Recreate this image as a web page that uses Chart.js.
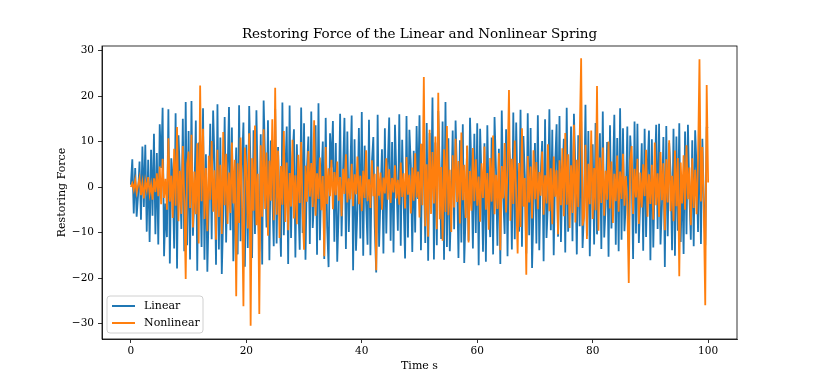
<!DOCTYPE html>
<html>
<head>
<meta charset="utf-8">
<script src="https://cdn.jsdelivr.net/npm/chart.js@4.4.0/dist/chart.umd.min.js"></script>
<style>
  html, body { margin: 0; padding: 0; background: #fff; }
  #wrap { width: 817px; height: 381px; }
</style>
</head>
<body>
<div id="wrap"><canvas id="springChart" width="817" height="381"></canvas></div>
<script>
// time grid: one sample every 0.25 s from 0 to 100 s
var timeStep = 0.25;

var linearForce = [
  0.5, 6.1, -5.8, 4.2, -6.5, -1.8, 5.6, -7.2, 8.9, -4.4, 9.3, -9.8, 6.0, -12.1, 8.2, -6.3, 11.7, -10.4, 7.5, -12.6,
  13.8, 4.2, 17.4, -15.2, -3.6, -11.0, 17.1, -16.8, 6.3, 1.9, -13.5, 16.2, -17.9, 11.4, 2.8, -9.2, 15.0, -14.1, 18.7, -12.8,
  12.3, -15.9, 18.9, -10.7, -2.4, 14.6, -18.4, 9.8, 3.5, -13.2, 17.3, -16.0, 7.2, -18.6, -4.1, 13.9, -11.5, 16.8, 5.2, -17.1,
  18.2, -13.7, 10.9, -19.1, -6.2, 15.4, -12.2, 2.7, 17.6, -9.5, 13.1, -16.3, -3.8, 8.7, -14.8, 18.0, -11.9, 4.6, 14.2, -17.5,
  9.3, -13.4, 17.8, 3.1, -15.6, 12.5, -10.3, 16.9, -2.2, -14.2, 11.6, -17.0, 19.0, 5.7, -8.9, 14.7, -16.1, 10.2, -1.5, -13.0,
  17.2, -12.4, 8.8, -4.0, -15.3, 18.6, -10.6, 2.5, 13.3, -16.9, 17.9, -11.2, 6.4, 12.7, -15.5, 9.4, -3.3, -13.8, 17.5, -10.1,
  14.0, -16.0, 3.9, 11.1, -12.5, 16.6, -9.0, -2.8, 13.6, -14.9, 18.4, -11.7, 1.6, 10.0, -15.8, 15.2, -8.6, -17.6, 11.8, 4.3,
  14.5, -12.0, 9.7, -16.4, -5.1, 16.1, -10.8, 3.0, 15.2, -13.6, 12.2, -9.9, 2.4, 15.7, -18.3, 10.5, -14.0, -4.7, 13.0, -11.3,
  16.5, -15.1, 9.1, -3.5, -12.7, 14.8, -15.0, 5.3, 11.0, -8.7, -18.8, 15.9, -13.1, -1.9, 8.3, -14.6, 12.9, -10.2, 4.4, 15.3,
  -11.8, 9.9, -14.4, 13.7, 2.1, -9.6, 16.0, -12.9, 10.4, -3.0, -15.7, 15.6, -11.1, 12.6, 4.8, -14.3, 8.0, -10.0, 13.4, -2.6,
  15.8, -13.9, 9.5, 3.7, -12.3, 14.1, -16.2, 11.9, -2.5, 19.7, -15.9, 9.8, -12.8, 16.7, 4.0, -11.4, 14.4, -16.0, 18.7, -13.2,
  10.7, -14.1, -3.4, 12.4, -9.3, 14.6, 2.2, -15.6, 10.3, -12.2, 13.8, -16.7, -5.5, 9.0, -11.8, 15.2, 3.3, -13.5, 11.7, -10.1,
  14.0, -17.2, 12.8, 1.4, -14.2, 9.6, -16.4, 13.6, -4.2, -11.0, 10.9, -14.8, 15.4, 3.8, -12.9, 8.4, -16.9, 16.8, -2.0, -10.3,
  12.7, -15.2, 9.1, 4.6, -13.7, 16.4, -11.5, 14.2, -3.1, -9.8, 17.0, -13.1, 11.2, 2.5, -14.6, 16.2, -10.6, 13.0, -17.8, -4.4,
  9.7, -12.4, 15.8, -13.9, 2.9, 10.1, -16.3, 14.9, -11.2, -3.6, 17.1, -9.5, 12.6, -15.0, 5.0, 13.8, -10.9, 15.6, -12.1, 1.8,
  10.6, -14.4, 17.4, -9.8, -2.7, 13.3, -11.9, 16.1, 4.1, -14.8, 11.4, -8.6, 14.7, -13.4, -5.3, 18.1, -10.7, 12.3, -15.2, 3.2,
  9.4, -12.6, 14.1, -10.4, 2.6, 11.8, -13.6, 16.6, -11.1, -4.0, 9.9, -15.3, 13.6, -9.1, 1.7, 15.9, -12.7, 10.8, -14.1, 17.3,
  -11.6, 12.9, -9.7, -3.1, 13.3, -13.8, 11.3, 4.9, -15.8, 14.4, -10.2, 13.9, -12.3, -2.3, 9.6, -14.0, 12.8, -11.0, 3.6, 12.4,
  -16.1, 10.5, -13.3, 2.1, 13.7, -9.2, 13.9, -12.6, -3.8, 11.0, -17.6, 13.4, -10.8, 9.7, 3.0, -13.9, 12.8, -15.1, 11.1, -9.6,
  14.0, -12.1, 2.7, -14.7, 12.2, -10.4, 13.7, -1.6, -11.6, 10.3, -13.0, 12.5, 4.1, -9.9, 14.8, -12.5, 10.6, -3.2, -12.8, 13.1,
  13.2
];

var nonlinearForce = [
  0.0, 0.8, -0.6, 1.5, -1.2, 0.4, 2.0, -1.8, 0.9, -2.5, 1.3, -0.7, 2.2, -1.5, 0.6, -2.8, 1.9, -1.1, 3.0, -2.0,
  4.5, -3.8, 6.2, -2.4, 1.8, -5.0, 10.7, -3.2, 2.5, -6.8, 8.4, -4.1, 13.2, -7.5, 3.6, -5.9, 9.0, -2.7, -20.2, 5.1,
  7.8, -4.6, 11.5, -8.9, 3.4, -6.0, 9.6, -12.4, 22.3, -3.1, 12.8, -7.0, 4.2, -9.7, 6.9, -2.8, 10.1, -5.4, 3.7, -11.6,
  8.2, -6.6, 4.9, -10.3, 12.1, -4.0, 7.3, -8.1, 3.2, -5.7, 9.8, -3.6, 6.0, -24.0, 5.2, -7.9, 10.9, -3.3, -26.2, 8.7,
  4.4, -9.1, 11.8, -30.5, 6.3, -5.2, 13.5, -8.4, 2.9, -27.9, 9.2, -6.5, 12.7, -4.8, 7.6, -10.7, 5.8, -3.0, 14.9, -7.3,
  21.8, -6.1, 8.0, -11.2, 4.6, -3.9, 12.3, -7.7, 5.4, -9.5, 3.1, -4.3, 10.4, -6.9, 2.6, -8.2, 7.1, -3.5, 9.9, -5.6,
  -13.8, 4.7, -3.2, 7.9, -2.1, 5.3, -4.4, 14.7, -6.3, 3.0, -2.6, 6.5, -5.1, 2.4, -15.2, 8.8, -3.7, 4.1, -2.0, 6.0,
  -4.9, 3.3, -1.8, 5.6, -3.0, 2.2, -6.4, 4.0, -1.5, 7.2, -3.4, 1.9, -2.7, 5.1, -4.2, 2.8, -1.6, 6.7, -3.8, 2.5,
  -5.3, 3.6, -2.4, 8.1, -3.1, 1.7, -4.6, 5.9, -2.0, 2.9, -18.3, 4.5, -1.9, 3.2, -5.0, 2.1, -1.4, 6.3, -2.8, 3.9,
  -3.5, 2.0, -1.2, 4.8, -2.5, 1.6, -3.9, 5.4, -2.2, 3.0, -4.7, 6.6, -1.7, 2.7, -5.8, 4.3, -3.0, 7.4, -2.3, 3.4,
  -6.7, 9.5, -4.0, 24.2, -8.6, 5.0, -10.9, 12.6, -5.9, 7.7, -3.6, 11.1, -9.3, 20.7, -7.1, 4.4, -11.8, 8.3, -5.5, 13.4,
  -6.2, 3.8, -9.9, 7.0, -4.5, 10.6, -3.3, 5.7, -8.0, 12.0, -2.9, 4.9, -6.8, 9.1, -12.2, 3.5, -5.2, 8.6, -3.1, 6.1,
  -4.1, 2.3, -7.6, 5.2, -2.4, 8.9, -5.0, 3.1, -9.4, 6.4, -3.2, 11.3, -6.0, 2.7, -4.8, 7.5, -13.9, 4.6, -2.5, 9.7,
  -5.6, 3.9, 21.3, -7.4, 6.2, -3.7, 10.2, -2.2, -14.6, 5.3, -8.8, 12.9, -4.3, 2.0, -19.3, 6.8, -3.4, 4.5, -6.9, 8.1,
  -2.7, 5.5, -4.9, 3.3, -1.9, 7.8, -6.1, 2.6, -3.6, 9.4, -5.3, 4.1, -8.2, 6.7, -2.1, 3.7, -10.4, 5.9, -4.0, 8.5,
  -6.4, 11.9, -3.9, 7.2, -9.0, 4.8, -5.7, 13.7, -7.8, 6.0, -4.4, 10.8, 28.3, -8.5, -6.6, 9.3, -11.4, 5.1, -3.8, 12.4,
  -7.0, 4.2, -5.1, 22.2, -9.6, 6.5, -3.5, 8.7, -6.3, 3.6, -2.8, 10.0, -4.7, 5.6, -7.9, 2.9, -3.1, 6.9, -5.4, 3.4,
  -2.6, 7.3, -4.1, 2.4, -3.9, -21.1, 5.8, 9.0, -5.9, 4.0, -2.3, 6.2, -8.1, 3.2, -4.5, 5.0, -2.0, 8.2, -6.5, 2.8,
  -3.7, 4.9, -7.2, 9.8, -4.0, 3.0, -6.6, 7.7, -2.9, 5.2, -9.5, 6.1, -3.4, 10.3, -5.3, 2.5, -7.5, 8.0, -4.2, 6.4,
  -19.6, 5.4, -3.6, 7.0, -5.0, 9.2, -2.7, 4.3, -8.4, 6.3, -4.6, 3.8, -6.0, 5.7, 28.1, -3.2, 8.8, -4.9, -26.0, 22.4,
  1.0
];

var xTicks = [0, 20, 40, 60, 80, 100];
var yTicks = [-30, -20, -10, 0, 10, 20, 30];

var seriesNames = ["Linear", "Nonlinear"];
var seriesColors = ["#1f77b4", "#ff7f0e"];

function toPoints(values) {
  return values.map(function (v, i) { return { x: i * timeStep, y: v }; });
}

var serif = "'DejaVu Serif', 'Liberation Serif', serif";

// frame, title, axis titles and the legend box inside the axes
var decorations = {
  id: 'decorations',
  afterDatasetsDraw: function (chart) {
    var ctx = chart.ctx;
    var a = chart.chartArea;
    ctx.save();
    ctx.strokeStyle = '#000';
    ctx.lineWidth = 0.8;
    ctx.strokeRect(a.left, a.top, a.right - a.left, a.bottom - a.top);

    ctx.fillStyle = '#000';
    ctx.textAlign = 'center';
    ctx.textBaseline = 'middle';
    ctx.font = '13.5px ' + serif;
    ctx.fillText('Restoring Force of the Linear and Nonlinear Spring', (a.left + a.right) / 2, 34);

    ctx.font = '11px ' + serif;
    ctx.fillText('Time s', (a.left + a.right) / 2, 366);
    ctx.save();
    ctx.translate(62, (a.top + a.bottom) / 2);
    ctx.rotate(-Math.PI / 2);
    ctx.fillText('Restoring Force', 0, 0);
    ctx.restore();

    // legend
    var bx = a.left + 5, by = a.bottom - 43, bw = 96, bh = 37, r = 3;
    ctx.beginPath();
    ctx.moveTo(bx + r, by);
    ctx.arcTo(bx + bw, by, bx + bw, by + bh, r);
    ctx.arcTo(bx + bw, by + bh, bx, by + bh, r);
    ctx.arcTo(bx, by + bh, bx, by, r);
    ctx.arcTo(bx, by, bx + bw, by, r);
    ctx.closePath();
    ctx.fillStyle = 'rgba(255,255,255,0.8)';
    ctx.fill();
    ctx.strokeStyle = '#d0d0d0';
    ctx.lineWidth = 1;
    ctx.stroke();

    ctx.font = '11px ' + serif;
    ctx.textAlign = 'left';
    for (var i = 0; i < seriesNames.length; i++) {
      var ly = by + 10 + i * 17;
      ctx.strokeStyle = seriesColors[i];
      ctx.lineWidth = 2;
      ctx.beginPath();
      ctx.moveTo(bx + 5, ly);
      ctx.lineTo(bx + 28, ly);
      ctx.stroke();
      ctx.fillStyle = '#000';
      ctx.fillText(seriesNames[i], bx + 37, ly);
    }
    ctx.restore();
  }
};

var ctx = document.getElementById('springChart').getContext('2d');
var springChart = new Chart(ctx, {
  type: 'line',
  data: {
    datasets: [{
      label: seriesNames[0],
      data: toPoints(linearForce),
      borderColor: seriesColors[0],
      borderWidth: 1.8,
      pointRadius: 0,
      tension: 0,
      order: 2
    }, {
      label: seriesNames[1],
      data: toPoints(nonlinearForce),
      borderColor: seriesColors[1],
      borderWidth: 1.8,
      pointRadius: 0,
      tension: 0,
      order: 1
    }]
  },
  options: {
    responsive: false,
    animation: false,
    events: [],
    layout: { padding: { top: 46, right: 80, left: 0, bottom: 0 } },
    plugins: {
      legend: { display: false },
      title: { display: false },
      tooltip: { enabled: false }
    },
    scales: {
      x: {
        type: 'linear',
        min: -5,
        max: 105,
        afterBuildTicks: function (scale) {
          scale.ticks = xTicks.map(function (v) { return { value: v }; });
        },
        afterFit: function (scale) { scale.height = 42; },
        grid: { drawOnChartArea: false, drawTicks: true, tickLength: 4, color: '#000', lineWidth: 0.8 },
        border: { display: true, color: '#000', width: 0.8 },
        ticks: {
          padding: 2,
          color: '#000',
          maxRotation: 0,
          font: { family: serif, size: 10.5 }
        }
      },
      y: {
        type: 'linear',
        min: -33.4,
        max: 31.0,
        afterBuildTicks: function (scale) {
          scale.ticks = yTicks.map(function (v) { return { value: v }; });
        },
        afterFit: function (scale) { scale.width = 102; },
        grid: { drawOnChartArea: false, drawTicks: true, tickLength: 4, color: '#000', lineWidth: 0.8 },
        border: { display: true, color: '#000', width: 0.8 },
        ticks: {
          padding: 4,
          color: '#000',
          font: { family: serif, size: 10.5 },
          callback: function (v) { return String(v).replace('-', '\u2212'); }
        }
      }
    }
  },
  plugins: [decorations]
});
</script>
</body>
</html>
